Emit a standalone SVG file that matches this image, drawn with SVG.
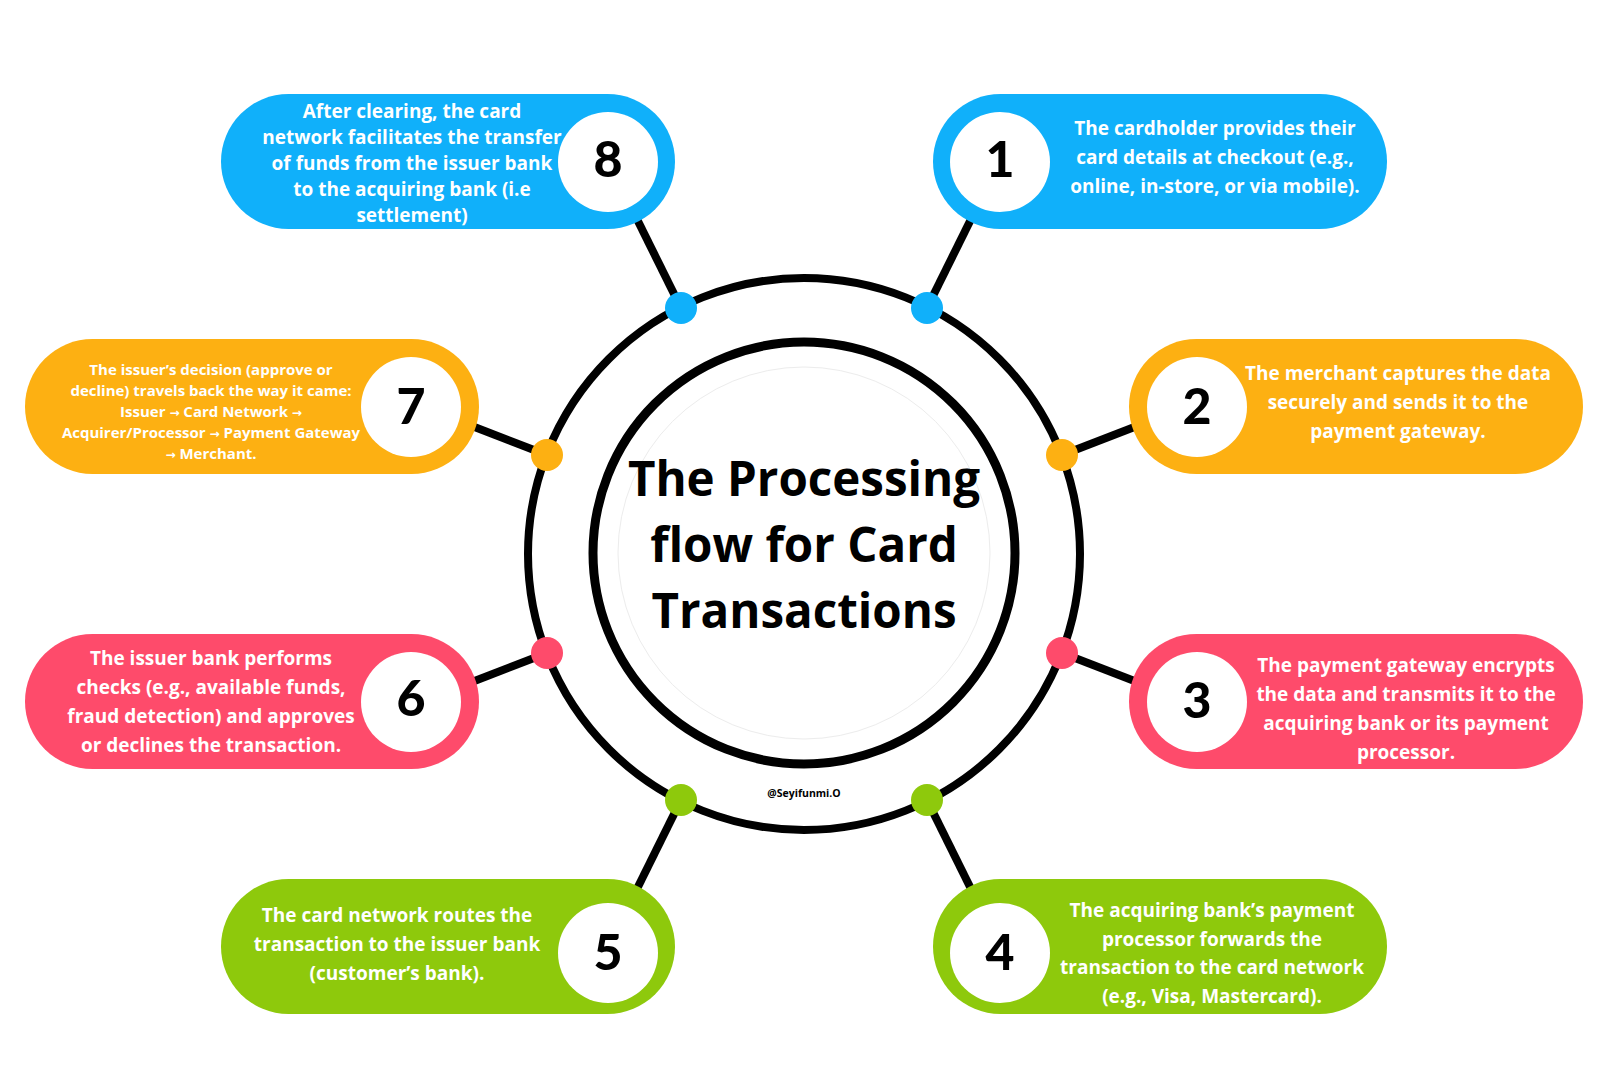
<svg xmlns="http://www.w3.org/2000/svg" width="1600" height="1084" viewBox="0 0 1600 1084">
<style>
  .blue{fill:#10b0fa}
  .orange{fill:#fdb012}
  .pink{fill:#fe4b6b}
  .green{fill:#8ec90c}
  .disc{fill:#ffffff}
  .num{font-family:Lato,"Liberation Sans",sans-serif;font-weight:900;font-size:50px;fill:#000;text-anchor:middle}
  .txt{font-family:"Open Sans","Liberation Sans",sans-serif;font-weight:700;font-size:19px;fill:#ffffff;text-anchor:middle}
  .small{font-size:15px}
  .arr{font-family:"DejaVu Sans",sans-serif;font-weight:700;font-size:12px}
  .title{font-family:"Open Sans","Liberation Sans",sans-serif;font-weight:700;font-size:47.5px;fill:#000;text-anchor:middle}
  .mark{font-family:"Open Sans","Liberation Sans",sans-serif;font-weight:700;font-size:10.5px;fill:#000;text-anchor:middle}
  .conn{stroke:#000;stroke-width:8;fill:none}
  .ring{stroke:#000;fill:none}
</style>
<rect width="1600" height="1084" fill="#ffffff"/>

<g id="hub">
  <circle class="ring" cx="804" cy="554" r="276" stroke-width="8"/>
  <circle class="ring" cx="804" cy="553" r="211" stroke-width="9"/>
  <circle cx="804" cy="553" r="186" fill="none" stroke="#ececec" stroke-width="1"/>
  <text class="title" x="804" y="496">The Processing</text>
  <text class="title" x="804" y="562">flow for Card</text>
  <text class="title" x="804" y="628">Transactions</text>
  <text class="mark" x="804" y="797">@Seyifunmi.O</text>
</g>

<g id="connectors">
  <line class="conn" x1="927" y1="308" x2="978" y2="205"/>
  <line class="conn" x1="1062" y1="455" x2="1150" y2="421"/>
  <line class="conn" x1="1062" y1="653" x2="1150" y2="687"/>
  <line class="conn" x1="927" y1="800" x2="978" y2="903"/>
  <line class="conn" x1="681" y1="800" x2="630" y2="903"/>
  <line class="conn" x1="547" y1="653" x2="459" y2="687"/>
  <line class="conn" x1="547" y1="455" x2="459" y2="421"/>
  <line class="conn" x1="681" y1="308" x2="630" y2="205"/>
  <circle class="blue" cx="927" cy="308" r="16"/>
  <circle class="orange" cx="1062" cy="455" r="16"/>
  <circle class="pink" cx="1062" cy="653" r="16"/>
  <circle class="green" cx="927" cy="800" r="16"/>
  <circle class="green" cx="681" cy="800" r="16"/>
  <circle class="pink" cx="547" cy="653" r="16"/>
  <circle class="orange" cx="547" cy="455" r="16"/>
  <circle class="blue" cx="681" cy="308" r="16"/>
</g>

<g id="step1">
  <rect class="blue" x="933" y="94" width="454" height="135" rx="67.5"/>
  <circle class="disc" cx="1000" cy="162" r="50"/>
  <text class="num" x="1000" y="177">1</text>
  <text class="txt" x="1215" y="135">The cardholder provides their</text>
  <text class="txt" x="1215" y="164">card details at checkout (e.g.,</text>
  <text class="txt" x="1215" y="193">online, in-store, or via mobile).</text>
</g>

<g id="step2">
  <rect class="orange" x="1129" y="339" width="454" height="135" rx="67.5"/>
  <circle class="disc" cx="1197" cy="407" r="50"/>
  <text class="num" x="1197" y="424">2</text>
  <text class="txt" x="1398" y="380">The merchant captures the data</text>
  <text class="txt" x="1398" y="409">securely and sends it to the</text>
  <text class="txt" x="1398" y="438">payment gateway.</text>
</g>

<g id="step3">
  <rect class="pink" x="1129" y="634" width="454" height="135" rx="67.5"/>
  <circle class="disc" cx="1197" cy="702" r="50"/>
  <text class="num" x="1197" y="718">3</text>
  <text class="txt" x="1406" y="672">The payment gateway encrypts</text>
  <text class="txt" x="1406" y="701">the data and transmits it to the</text>
  <text class="txt" x="1406" y="730">acquiring bank or its payment</text>
  <text class="txt" x="1406" y="759">processor.</text>
</g>

<g id="step4">
  <rect class="green" x="933" y="879" width="454" height="135" rx="67.5"/>
  <circle class="disc" cx="1000" cy="953" r="50"/>
  <text class="num" x="1000" y="970">4</text>
  <text class="txt" x="1212" y="917">The acquiring bank’s payment</text>
  <text class="txt" x="1212" y="946">processor forwards the</text>
  <text class="txt" x="1212" y="974">transaction to the card network</text>
  <text class="txt" x="1212" y="1003">(e.g., Visa, Mastercard).</text>
</g>

<g id="step5">
  <rect class="green" x="221" y="879" width="454" height="135" rx="67.5"/>
  <circle class="disc" cx="608" cy="953" r="50"/>
  <text class="num" x="608" y="970">5</text>
  <text class="txt" x="397" y="922">The card network routes the</text>
  <text class="txt" x="397" y="951">transaction to the issuer bank</text>
  <text class="txt" x="397" y="980">(customer’s bank).</text>
</g>

<g id="step6">
  <rect class="pink" x="25" y="634" width="454" height="135" rx="67.5"/>
  <circle class="disc" cx="411" cy="702" r="50"/>
  <text class="num" x="411" y="716">6</text>
  <text class="txt" x="211" y="665">The issuer bank performs</text>
  <text class="txt" x="211" y="694">checks (e.g., available funds,</text>
  <text class="txt" x="211" y="723">fraud detection) and approves</text>
  <text class="txt" x="211" y="752">or declines the transaction.</text>
</g>

<g id="step7">
  <rect class="orange" x="25" y="339" width="454" height="135" rx="67.5"/>
  <circle class="disc" cx="411" cy="407" r="50"/>
  <text class="num" x="411" y="424">7</text>
  <text class="txt small" x="211" y="375">The issuer’s decision (approve or</text>
  <text class="txt small" x="211" y="396">decline) travels back the way it came:</text>
  <text class="txt small" x="211" y="417">Issuer <tspan class="arr">→</tspan> Card Network <tspan class="arr">→</tspan></text>
  <text class="txt small" x="211" y="438">Acquirer/Processor <tspan class="arr">→</tspan> Payment Gateway</text>
  <text class="txt small" x="211" y="459"><tspan class="arr">→</tspan> Merchant.</text>
</g>

<g id="step8">
  <rect class="blue" x="221" y="94" width="454" height="135" rx="67.5"/>
  <circle class="disc" cx="608" cy="162" r="50"/>
  <text class="num" x="608" y="177">8</text>
  <text class="txt" x="412" y="118">After clearing, the card</text>
  <text class="txt" x="412" y="144">network facilitates the transfer</text>
  <text class="txt" x="412" y="170">of funds from the issuer bank</text>
  <text class="txt" x="412" y="196">to the acquiring bank (i.e</text>
  <text class="txt" x="412" y="222">settlement)</text>
</g>
</svg>
